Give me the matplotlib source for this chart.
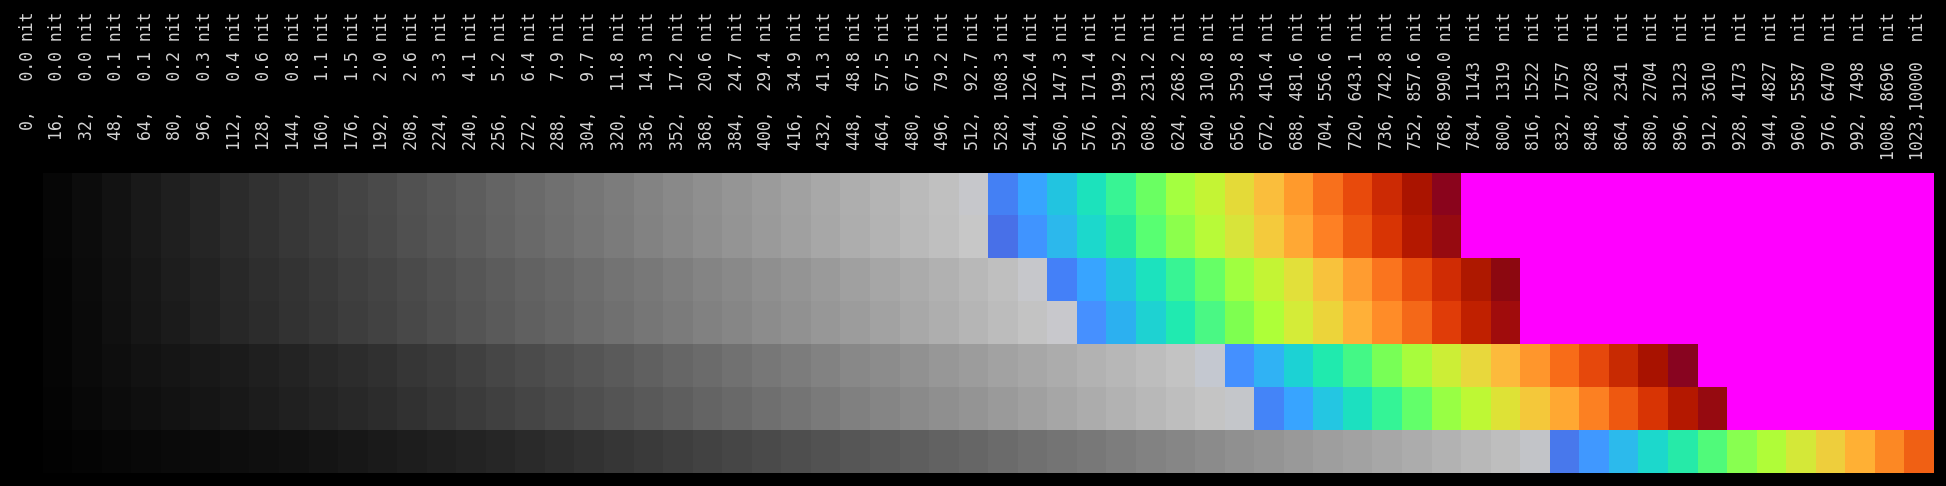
import matplotlib
matplotlib.use("Agg")
import matplotlib.pyplot as plt
import matplotlib.transforms as mtransforms
from matplotlib.colors import to_rgb
import numpy as np

# code values along the top and the luminance each one maps to
codes = [0, 16, 32, 48, 64, 80, 96, 112, 128, 144, 160, 176, 192, 208, 224, 240,
         256, 272, 288, 304, 320, 336, 352, 368, 384, 400, 416, 432, 448, 464, 480, 496,
         512, 528, 544, 560, 576, 592, 608, 624, 640, 656, 672, 688, 704, 720, 736, 752,
         768, 784, 800, 816, 832, 848, 864, 880, 896, 912, 928, 944, 960, 976, 992, 1008, 1023]
nits = [0.0, 0.0, 0.0, 0.1, 0.1, 0.2, 0.3, 0.4, 0.6, 0.8, 1.1, 1.5,
        2.0, 2.6, 3.3, 4.1, 5.2, 6.4, 7.9, 9.7, 11.8, 14.3, 17.2, 20.6,
        24.7, 29.4, 34.9, 41.3, 48.8, 57.5, 67.5, 79.2, 92.7, 108.3, 126.4,
        147.3, 171.4, 199.2, 231.2, 268.2, 310.8, 359.8, 416.4, 481.6, 556.6,
        643.1, 742.8, 857.6, 990.0, 1143, 1319, 1522, 1757, 2028, 2341,
        2704, 3123, 3610, 4173, 4827, 5587, 6470, 7498, 8696, 10000]

# grey part of each row (0-255), then the coloured part, rest is clipped (magenta)
row1_gray = [0, 6, 12, 18, 25, 31, 37, 43, 49, 55, 61, 68, 74, 81, 87, 93, 100, 106, 112, 118,
             124, 131, 137, 143, 149, 155, 161, 168, 174, 180, 186, 192]
row1_ramp = ['#C6C7CB', '#4480F4', '#38A4FF', '#22C4E0', '#1CE2BC', '#38F494', '#6AFF62',
             '#A4FF40', '#C4F434', '#E4DA38', '#FABE3C', '#FF9A2C', '#F8701C', '#E84A0C',
             '#CC2A04', '#AA1400', '#8A041C']

row2_gray = [0, 6, 12, 18, 25, 31, 37, 43, 49, 55, 61, 67, 73, 80, 86, 92, 99, 105, 111, 117,
             123, 130, 136, 142, 148, 154, 160, 167, 173, 179, 185, 191, 199]
row2_ramp = ['#4870E8', '#4094FF', '#2CB8EC', '#1CD8CC', '#26EAA0', '#58FF72', '#8CFF4C',
             '#B8FA38', '#D8E43A', '#F4CA3C', '#FFA834', '#FE8024', '#EE5810', '#D83404',
             '#B41800', '#960A10']

row3_gray = [0, 5, 11, 17, 23, 29, 34, 40, 46, 51, 57, 63, 68, 74, 80, 86, 92, 98, 103, 109,
             115, 120, 126, 132, 137, 143, 148, 154, 160, 166, 171, 177, 184, 191]
row3_ramp = ['#C6C7CB', '#4480F8', '#38A4FF', '#22C4E0', '#1CE2BE', '#38F494', '#66FF66',
             '#A0FF40', '#C4F434', '#E2E03A', '#F8C23C', '#FF9C30', '#FA741E', '#E84C0C',
             '#D02C04', '#AE1800', '#8C0810']

row4_gray = [0, 5, 10, 16, 22, 27, 33, 39, 44, 50, 55, 61, 66, 72, 78, 84, 90, 96, 101, 107,
             112, 118, 123, 129, 134, 140, 145, 151, 156, 162, 168, 174, 181, 188, 195]
row4_ramp = ['#C8C8CC', '#4690FF', '#2CB0F0', '#1ED2D2', '#20EAB0', '#4AF884', '#7EFF50',
             '#AEFF38', '#D4EC38', '#ECD43A', '#FFB038', '#FF8C28', '#F46818', '#E03C08',
             '#C02000', '#A00C0C']

row5_gray = [0, 5, 10, 14, 18, 21, 24, 27, 31, 35, 40, 44, 48, 54, 58, 64, 70, 75, 80, 85,
             90, 96, 102, 107, 113, 119, 124, 130, 136, 140, 145, 151, 156, 162, 167, 172,
             178, 183, 189, 195]
row5_ramp = ['#C4C8D0', '#4490FF', '#30B2F4', '#1CD2D4', '#20EAAE', '#44F886', '#78FF56',
             '#A8FC3C', '#CCEE36', '#E8D83C', '#FCBA3C', '#FF962C', '#F86C18', '#E6480C',
             '#C82A02', '#A81200', '#880420']

row6_gray = [0, 4, 8, 12, 15, 18, 21, 24, 28, 32, 36, 40, 44, 49, 54, 59, 64, 69, 74, 79,
             84, 89, 94, 100, 105, 111, 116, 122, 128, 133, 138, 143, 148, 154, 160, 166,
             172, 178, 184, 190, 196]
row6_ramp = ['#C4C6CA', '#4484F8', '#38A4FF', '#24C6E2', '#1CE0C0', '#34F496', '#62FF6A',
             '#98FF44', '#BEF834', '#DEE236', '#F4C83A', '#FFA832', '#FC8022', '#EE5810',
             '#D83404', '#B41800', '#960A10']

row7_gray = [0, 2, 4, 6, 8, 10, 11, 13, 15, 17, 20, 23, 26, 29, 32, 35, 38, 42, 46, 50,
             54, 58, 62, 66, 70, 74, 78, 82, 86, 90, 94, 98, 102, 107, 112, 116, 120, 125,
             130, 134, 139, 144, 148, 153, 158, 162, 167, 172, 178, 184, 190]
row7_ramp = ['#C2C4C8', '#4878EC', '#4098FF', '#2CBAEC', '#1CD8CC', '#26EAA8', '#50FA7A',
             '#88FF50', '#B0FC38', '#D4E838', '#EECE3C', '#FFB034', '#FC8824', '#F06014']

clip_color = '#FF00FF'

rows = [(row1_gray, row1_ramp), (row2_gray, row2_ramp), (row3_gray, row3_ramp),
        (row4_gray, row4_ramp), (row5_gray, row5_ramp), (row6_gray, row6_ramp),
        (row7_gray, row7_ramp)]

ncol = len(codes)
img = []
for g, ramp in rows:
    line = [(v / 255, v / 255, v / 255) for v in g]
    line += [to_rgb(c) for c in ramp]
    line += [to_rgb(clip_color)] * (ncol - len(line))
    img.append(line)
img = np.array(img)


def nit_label(code, nit):
    # decimals below 1000 nit, whole numbers above, kept aligned
    if nit < 1000:
        s = f"{nit:6.1f}"
    else:
        s = f"{nit:5.0f} "
    return f"{code},{s} nit"


W, H = 1946, 486
fig = plt.figure(figsize=(W / 100, H / 100), dpi=100, facecolor='black')
ax = fig.add_axes([13 / W, 13 / H, 1920 / W, 300 / H])
ax.imshow(img, aspect='auto', interpolation='nearest',
          extent=(-0.5, ncol - 0.5, len(rows) - 0.5, -0.5))
ax.set_xlim(-0.5, ncol - 0.5)
ax.axis('off')

trans = mtransforms.blended_transform_factory(ax.transData, fig.transFigure)
for i, (c, n) in enumerate(zip(codes, nits)):
    ax.text(i, 1 - 12 / H, nit_label(c, n), transform=trans, rotation=90,
            ha='center', va='top', family='DejaVu Sans Mono', fontsize=11.9,
            color='#d4d4d4')

fig.savefig('out.png', dpi=100, facecolor='black')
